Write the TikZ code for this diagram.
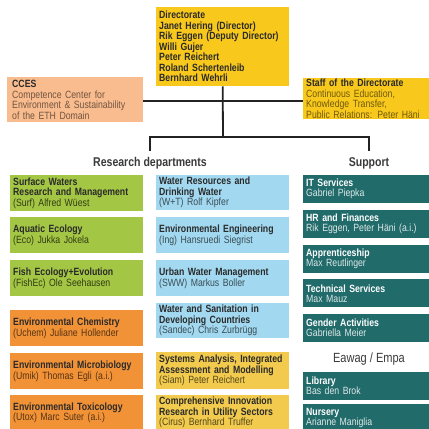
\documentclass[tikz,border=0pt]{standalone}
\usepackage{fontspec}
\setmainfont{Liberation Sans}[FakeStretch=0.83]
\definecolor{cYel}{HTML}{F8C81C}
\definecolor{cPeach}{HTML}{F9BC8F}
\definecolor{cGreen}{HTML}{A3C644}
\definecolor{cBlue}{HTML}{A2D9F0}
\definecolor{cOrange}{HTML}{F29237}
\definecolor{cGold}{HTML}{F1CA4E}
\definecolor{cTeal}{HTML}{226B6B}
\definecolor{cLine}{HTML}{222222}
\definecolor{cHead}{HTML}{3A3A3A}
\definecolor{cDark}{HTML}{2A2A2A}
\colorlet{sGreen}{black!70!cGreen}
\colorlet{sBlue}{black!65!cBlue}
\colorlet{sOrange}{black!65!cOrange}
\colorlet{sGold}{black!65!cGold}
\colorlet{sPeach}{black!55!cPeach}
\colorlet{sYel}{black!55!cYel}
\colorlet{sTeal}{white!85!cTeal}
\newcommand\ttl[1]{\textbf{#1}}
\tikzset{
  box/.style={anchor=north west, inner xsep=3pt, inner ysep=0pt, align=left,
    font=\fontsize{10.5}{10.5}\selectfont, text=cDark},
  greenbox/.style={box, fill=cGreen, text width=127pt, minimum height=36pt},
  orangebox/.style={box, fill=cOrange, text width=127pt, minimum height=36pt},
  bluebox/.style={box, fill=cBlue, text width=127pt, minimum height=36pt},
  goldbox/.style={box, fill=cGold, text width=127pt, minimum height=36pt},
  tealbox/.style={box, fill=cTeal, text=white, text width=120pt, minimum height=28pt,
    font=\fontsize{10.5}{10}\selectfont},
  heading/.style={font=\fontsize{12.7}{13}\selectfont\bfseries, text=cHead, inner sep=0pt},
  conn/.style={draw=cLine, line width=1.8pt}
}
\begin{document}
\begin{tikzpicture}[x=1pt,y=-1pt]
\useasboundingbox (0,0) rectangle (429,429);
\clip (0,0) rectangle (429,429);
\fill[white] (0,0) rectangle (429,429);

% top level
\node[box, fill=cYel, text width=127pt, minimum height=79pt] (dir) at (156,7)
  {\ttl{Directorate}\\\ttl{Janet Hering (Director)}\\\ttl{Rik Eggen (Deputy Director)}\\\ttl{Willi Gujer}\\\ttl{Peter Reichert}\\\ttl{Roland Schertenleib}\\\ttl{Bernhard Wehrli}};
\node[box, fill=cPeach, inner xsep=5pt, text width=126pt, minimum height=45pt] (cces) at (7,77)
  {\ttl{CCES}\\{\color{sPeach}Competence Center for}\\{\color{sPeach}Environment \& Sustainability}\\{\color{sPeach}of the ETH Domain}};
\node[box, fill=cYel, text width=126pt, minimum height=41pt] (staff) at (303,78)
  {\ttl{Staff of the Directorate}\\{\color{sYel}Continuous Education,}\\{\color{sYel}Knowledge Transfer,}\\{\color{sYel}Public Relations: Peter Häni}};

% connectors
\coordinate (j) at (223,101);
\coordinate (split) at (223,137);
\coordinate (rd) at (150,151);
\coordinate (sp) at (369,151);
\draw[conn] (dir.south) -- (split);
\draw[conn] (cces.east |- j) -- (staff.west |- j);
\draw[conn] (rd) |- (split) -| (sp);

% headings
\node[heading] (hres) at (150,163) {Research departments};
\node[heading] (hsup) at (369,163) {Support};
\node[heading, font=\fontsize{13.3}{14}\selectfont] (hee) at (369,359) {Eawag / Empa};

% research column 1
\node[greenbox] (surf) at (10,175) {\ttl{Surface Waters}\\\ttl{Research and Management}\\{\color{sGreen}(Surf) Alfred Wüest}};
\node[greenbox] (eco) at (10,217) {\ttl{Aquatic Ecology}\\{\color{sGreen}(Eco) Jukka Jokela}};
\node[greenbox] (fish) at (10,260) {\ttl{Fish Ecology+Evolution}\\{\color{sGreen}(FishEc) Ole Seehausen}};
\node[orangebox] (uchem) at (10,310) {\ttl{Environmental Chemistry}\\{\color{sOrange}(Uchem) Juliane Hollender}};
\node[orangebox] (umik) at (10,353) {\ttl{Environmental Microbiology}\\{\color{sOrange}(Umik) Thomas Egli (a.i.)}};
\node[orangebox, minimum height=35pt] (utox) at (10,395) {\ttl{Environmental Toxicology}\\{\color{sOrange}(Utox) Marc Suter (a.i.)}};

% research column 2
\node[bluebox, minimum height=35pt] (wt) at (156,175) {\ttl{Water Resources and}\\\ttl{Drinking Water}\\{\color{sBlue}(W+T) Rolf Kipfer}};
\node[bluebox] (ing) at (156,217) {\ttl{Environmental Engineering}\\{\color{sBlue}(Ing) Hansruedi Siegrist}};
\node[bluebox] (sww) at (156,260) {\ttl{Urban Water Management}\\{\color{sBlue}(SWW) Markus Boller}};
\node[bluebox, minimum height=35pt] (sandec) at (156,303) {\ttl{Water and Sanitation in}\\\ttl{Developing Countries}\\{\color{sBlue}(Sandec) Chris Zurbrügg}};
\node[goldbox, minimum height=37pt] (siam) at (156,352) {\ttl{Systems Analysis, Integrated}\\\ttl{Assessment and Modelling}\\{\color{sGold}(Siam) Peter Reichert}};
\node[goldbox, minimum height=35pt] (cirus) at (156,395) {\ttl{Comprehensive Innovation}\\\ttl{Research in Utility Sectors}\\{\color{sGold}(Cirus) Bernhard Truffer}};

% support column
\node[tealbox] (it) at (303,175) {\ttl{IT Services}\\{\color{sTeal}Gabriel Piepka}};
\node[tealbox] (hr) at (303,209.75) {\ttl{HR and Finances}\\{\color{sTeal}Rik Eggen, Peter Häni (a.i.)}};
\node[tealbox] (app) at (303,244.5) {\ttl{Apprenticeship}\\{\color{sTeal}Max Reutlinger}};
\node[tealbox] (tech) at (303,279.25) {\ttl{Technical Services}\\{\color{sTeal}Max Mauz}};
\node[tealbox] (gender) at (303,314) {\ttl{Gender Activities}\\{\color{sTeal}Gabriella Meier}};
\node[tealbox] (lib) at (303,372) {\ttl{Library}\\{\color{sTeal}Bas den Brok}};
\node[tealbox] (nurs) at (303,404) {\ttl{Nursery}\\{\color{sTeal}Arianne Maniglia}};
\end{tikzpicture}
\end{document}
